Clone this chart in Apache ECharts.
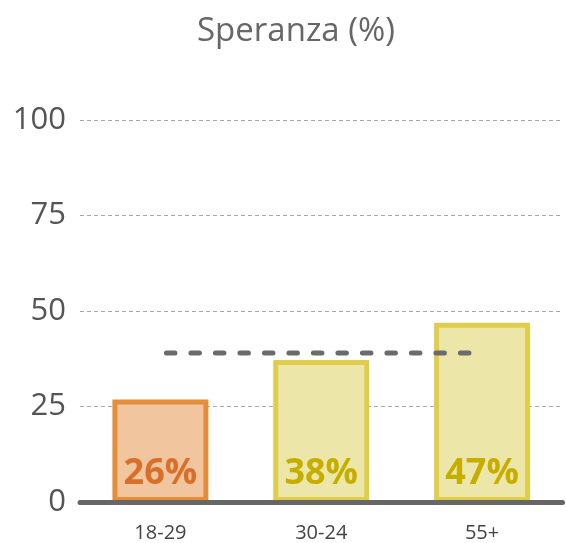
<!DOCTYPE html>
<html><head><meta charset="utf-8">
<script src="https://cdn.jsdelivr.net/npm/echarts@6/dist/echarts.min.js"></script>
<style>html,body{margin:0;padding:0;background:#fff}#c{width:566px;height:543px}</style>
</head><body><div id="c"></div>
<script>
const categories = ['18-29', '30-24', '55+'];
const barValues = [26.8, 37.2, 46.9];
const barLabels = ['26%', '38%', '47%'];
const referenceLine = [39, 39, 39];
const yTicks = [0, 25, 50, 75, 100];

const FONT = '"Open Sans", Lato, sans-serif';
const styles = [
  {fill: '#f1c59e', border: '#e48d3b', text: '#d9702a'},
  {fill: '#ede6a9', border: '#e0cd4b', text: '#c6ae00'},
  {fill: '#ede6a9', border: '#e0cd4b', text: '#c6ae00'}
];

const chart = echarts.init(document.getElementById('c'), null, {renderer: 'canvas'});
chart.setOption({
  animation: false,
  title: {
    text: 'Speranza (%)', left: 192, top: 10,
    textStyle: {fontFamily: FONT, fontSize: 33, fontWeight: 'normal', color: '#666'}
  },
  grid: {left: 80, right: 3.5, top: 120, bottom: 39, containLabel: false},
  xAxis: {
    type: 'category', data: categories, z: 10,
    axisLine: {lineStyle: {color: '#666', width: 5, cap: 'round'}},
    axisTick: {show: false},
    axisLabel: {fontFamily: FONT, fontSize: 20, color: '#444', margin: 21}
  },
  yAxis: {
    type: 'value', min: yTicks[0], max: yTicks[yTicks.length - 1], interval: 25,
    axisLine: {show: false}, axisTick: {show: false},
    axisLabel: {fontFamily: FONT, fontSize: 31, color: '#555', margin: 14},
    splitLine: {lineStyle: {color: '#aaa', width: 1, type: [4, 3]}}
  },
  series: [
    {
      type: 'bar', barWidth: 96,
      data: barValues.map((v, i) => ({
        value: v,
        itemStyle: {color: styles[i].fill, borderColor: styles[i].border, borderWidth: 5},
        label: {color: styles[i].text}
      })),
      label: {
        show: true, position: 'insideBottom', distance: 10,
        formatter: p => barLabels[p.dataIndex],
        fontFamily: FONT, fontSize: 36, fontWeight: 'bold'
      }
    },
    {
      type: 'line', data: referenceLine, symbol: 'none', z: 5,
      lineStyle: {color: '#6b6b6b', width: 5, cap: 'round', type: [8.5, 16], dashOffset: 18.5}
    }
  ]
});
</script></body></html>
